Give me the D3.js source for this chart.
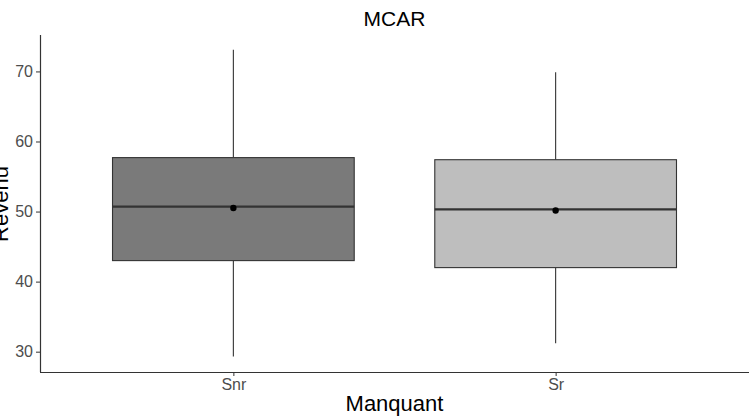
<!DOCTYPE html>
<html>
<head>
<meta charset="utf-8">
<script src="https://cdn.jsdelivr.net/npm/d3@7"></script>
<style>
  body { margin: 0; background: #fff; }
  text { font-family: "Liberation Sans", Arial, sans-serif; }
</style>
</head>
<body>
<script>
// size of the page
var w = 754;
var h = 417;

// data
var groups  = ["Snr", "Sr"];
var fills   = ["#7a7a7a", "#bebebe"];
var lowW    = [29.3, 31.2];   // lower whisker end
var q1      = [43.0, 42.0];
var medians = [50.7, 50.3];
var q3      = [57.7, 57.4];
var highW   = [73.1, 69.9];   // upper whisker end
var means   = [50.5, 50.15];
var yTicks  = [30, 40, 50, 60, 70];

// panel edges ("top" is taken by window.top, so p-prefixed)
var pLeft = 40, pRight = 749, pTop = 35, pBottom = 372;

// scales
var x = d3.scalePoint()
    .domain(groups)
    .range([pLeft, pRight])
    .padding(0.6);

var y = d3.scaleLinear()
    .domain([27.1, 75.2])
    .range([pBottom, pTop]);

var boxW = x.step() * 0.75;

var svg = d3.select("body")
    .append("svg")
    .attr("width", w)
    .attr("height", h);

var data = groups.map(function(g, i) {
  return { g: g, fill: fills[i], lo: lowW[i], q1: q1[i], med: medians[i],
           q3: q3[i], hi: highW[i], mean: means[i] };
});

var box = svg.selectAll("g.box")
    .data(data)
    .enter()
    .append("g")
    .attr("class", "box");

// whiskers
box.append("line")
    .attr("x1", function(d) { return x(d.g); })
    .attr("x2", function(d) { return x(d.g); })
    .attr("y1", function(d) { return y(d.q3); })
    .attr("y2", function(d) { return y(d.hi); })
    .attr("stroke", "#333").attr("stroke-width", 1.1);
box.append("line")
    .attr("x1", function(d) { return x(d.g); })
    .attr("x2", function(d) { return x(d.g); })
    .attr("y1", function(d) { return y(d.q1); })
    .attr("y2", function(d) { return y(d.lo); })
    .attr("stroke", "#333").attr("stroke-width", 1.1);

// boxes
box.append("rect")
    .attr("x", function(d) { return x(d.g) - boxW / 2; })
    .attr("width", boxW)
    .attr("y", function(d) { return y(d.q3); })
    .attr("height", function(d) { return y(d.q1) - y(d.q3); })
    .attr("fill", function(d) { return d.fill; })
    .attr("stroke", "#333").attr("stroke-width", 1.1);

// median
box.append("line")
    .attr("x1", function(d) { return x(d.g) - boxW / 2; })
    .attr("x2", function(d) { return x(d.g) + boxW / 2; })
    .attr("y1", function(d) { return y(d.med); })
    .attr("y2", function(d) { return y(d.med); })
    .attr("stroke", "#333").attr("stroke-width", 2.2);

// mean point
box.append("circle")
    .attr("cx", function(d) { return x(d.g); })
    .attr("cy", function(d) { return y(d.mean); })
    .attr("r", 3.2)
    .attr("fill", "#000");

// axes
var yAxis = svg.append("g")
    .attr("transform", "translate(" + pLeft + ",0)")
    .call(d3.axisLeft(y).tickValues(yTicks).tickSize(4).tickPadding(3));
var xAxis = svg.append("g")
    .attr("transform", "translate(0," + pBottom + ")")
    .call(d3.axisBottom(x).tickSize(4).tickPadding(3));

[yAxis, xAxis].forEach(function(a) {
  a.select(".domain").attr("stroke", "#333").attr("stroke-width", 1.2);
  a.selectAll(".tick line").attr("stroke", "#333");
  a.selectAll(".tick text")
      .attr("fill", "#4d4d4d")
      .style("font-size", "16px")
      .style("font-family", "'Liberation Sans', Arial, sans-serif");
});
// axis lines run to the panel corner
yAxis.select(".domain").attr("d", "M0.5," + pTop + "V" + pBottom);
xAxis.select(".domain").attr("d", "M" + pLeft + ",0.5H" + pRight);

// labels
svg.append("text")
    .attr("x", (pLeft + pRight) / 2)
    .attr("y", 26)
    .attr("text-anchor", "middle")
    .style("font-size", "21px")
    .text("MCAR");

svg.append("text")
    .attr("x", (pLeft + pRight) / 2)
    .attr("y", 411)
    .attr("text-anchor", "middle")
    .style("font-size", "22px")
    .text("Manquant");

svg.append("text")
    .attr("transform", "translate(8,204) rotate(-90)")
    .attr("text-anchor", "middle")
    .style("font-size", "22px")
    .text("Revenu");
</script>
</body>
</html>
